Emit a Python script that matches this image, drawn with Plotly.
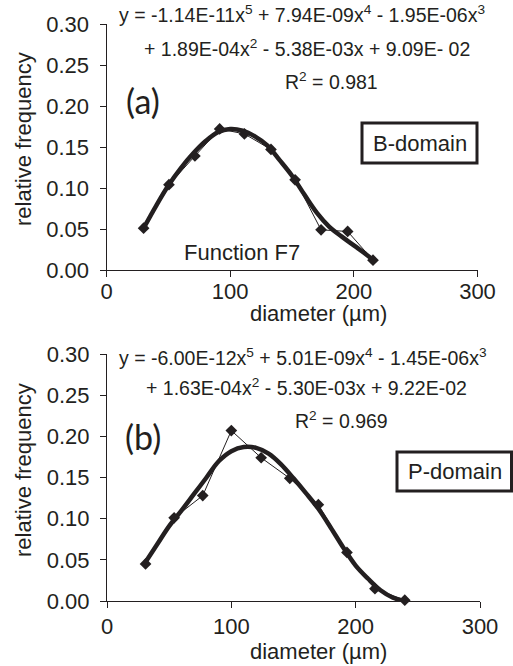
import plotly.graph_objects as go

# ---- data ----
diam_a = [30, 50.5, 71.5, 91.5, 111.5, 133, 152.5, 173.5, 195, 215.5]
freq_a = [0.051, 0.104, 0.139, 0.172, 0.166, 0.147, 0.110, 0.049, 0.047, 0.012]
fit_x_a = [30, 40, 50, 60, 70, 80, 90, 100, 110, 120, 130, 140, 150, 160, 170, 180, 190, 200, 210, 215]
fit_y_a = [0.051, 0.078, 0.103, 0.124, 0.142, 0.157, 0.168, 0.172, 0.170, 0.163, 0.152, 0.134, 0.115, 0.092, 0.070, 0.053, 0.041, 0.030, 0.019, 0.013]

diam_b = [31, 54, 77, 100, 124, 147, 170, 193, 215.5, 239.5]
freq_b = [0.045, 0.101, 0.128, 0.207, 0.174, 0.149, 0.117, 0.059, 0.015, 0.001]
fit_x_b = [30, 40, 50, 60, 70, 80, 90, 100, 110, 120, 130, 140, 150, 160, 170, 180, 190, 200, 210, 220, 230, 240]
fit_y_b = [0.045, 0.068, 0.091, 0.110, 0.130, 0.150, 0.170, 0.182, 0.187, 0.186, 0.179, 0.166, 0.149, 0.131, 0.112, 0.089, 0.065, 0.043, 0.027, 0.013, 0.004, 0.000]

x_ticks = [0, 100, 200, 300]
y_ticks = [0.00, 0.05, 0.10, 0.15, 0.20, 0.25, 0.30]

eq_a = ["y = -1.14E-11x<sup>5</sup> + 7.94E-09x<sup>4</sup> - 1.95E-06x<sup>3</sup>",
        "+ 1.89E-04x<sup>2</sup> - 5.38E-03x + 9.09E- 02",
        "R<sup>2</sup> = 0.981"]
eq_b = ["y = -6.00E-12x<sup>5</sup> + 5.01E-09x<sup>4</sup> - 1.45E-06x<sup>3</sup>",
        "+ 1.63E-04x<sup>2</sup> - 5.30E-03x + 9.22E-02",
        "R<sup>2</sup> = 0.969"]

W, H = 513, 666
INK = "#231f20"
FONT = "Liberation Sans, Arial, sans-serif"

def px(x):
    return x / W

def py(y):
    return 1 - y / H

fig = go.Figure()

for xa, ya, dx, dy, fx, fy in [("x", "y", diam_a, freq_a, fit_x_a, fit_y_a),
                               ("x2", "y2", diam_b, freq_b, fit_x_b, fit_y_b)]:
    fig.add_trace(go.Scatter(x=dx, y=dy, mode="lines+markers", xaxis=xa, yaxis=ya,
                             line=dict(color=INK, width=1),
                             marker=dict(symbol="diamond", size=9, color=INK),
                             showlegend=False, cliponaxis=False))
    fig.add_trace(go.Scatter(x=fx, y=fy, mode="lines", xaxis=xa, yaxis=ya,
                             line=dict(color=INK, width=4.5, shape="spline"),
                             showlegend=False, cliponaxis=False))

axis_common = dict(showgrid=False, zeroline=False, showline=True, linecolor=INK, linewidth=1,
                   ticks="outside", ticklen=6, tickcolor=INK, tickwidth=1, automargin=False,
                   tickfont=dict(family=FONT, size=22, color=INK))

fig.update_layout(
    width=W, height=H, margin=dict(l=0, r=0, t=0, b=0, autoexpand=False),
    paper_bgcolor="white", plot_bgcolor="white",
    xaxis=dict(domain=[px(106.5), px(477.5)], range=[0, 300], tickvals=x_ticks,
               anchor="y", ticklabelstandoff=-4, **axis_common),
    yaxis=dict(domain=[py(270), py(24)], range=[0, 0.30], tickvals=y_ticks,
               tickformat=".2f", anchor="x", ticklabelstandoff=6, **axis_common),
    xaxis2=dict(domain=[px(107), px(480)], range=[0, 300], tickvals=x_ticks,
                anchor="y2", **axis_common),
    yaxis2=dict(domain=[py(601), py(354)], range=[0, 0.30], tickvals=y_ticks,
                tickformat=".2f", anchor="x2", ticklabelstandoff=6, **axis_common),
)

ann = []

def text(x, y, s, size, xanchor="center", yanchor="middle", angle=0, family=FONT):
    ann.append(dict(x=px(x), y=py(y), xref="paper", yref="paper", text=s, showarrow=False,
                    xanchor=xanchor, yanchor=yanchor, textangle=angle,
                    font=dict(family=family, size=size, color=INK)))

EQ = 19.5
# panel (a)
text(117, 14, eq_a[0], EQ, xanchor="left")
text(142, 48, eq_a[1], EQ, xanchor="left")
text(331, 81, eq_a[2], EQ)
text(143, 101, "(a)", 34, family="Lato")
text(242, 252, "Function F7", 22)
text(318, 314, "diameter (µm)", 22)
text(23, 139, "relative frequency", 22, angle=-90)
# panel (b)
text(117, 357, eq_b[0], EQ, xanchor="left")
text(144, 387, eq_b[1], EQ, xanchor="left")
text(341, 420, eq_b[2], EQ)
text(143, 436, "(b)", 34, family="Lato")
text(318, 651, "diameter (µm)", 22)
text(23, 470, "relative frequency", 22, angle=-90)

# boxed labels
text(419.5, 143, "B-domain", 22)
text(455, 471.5, "P-domain", 22)

fig.update_layout(annotations=ann)

shapes = [
    dict(type="rect", xref="paper", yref="paper", x0=px(362), x1=px(477), y0=py(163), y1=py(123),
         line=dict(color=INK, width=3), fillcolor="rgba(0,0,0,0)", layer="above"),
    dict(type="rect", xref="paper", yref="paper", x0=px(397), x1=px(511.5), y0=py(491), y1=py(452),
         line=dict(color=INK, width=3), fillcolor="rgba(0,0,0,0)", layer="above"),
]
fig.update_layout(shapes=shapes)

fig.write_html("out.html")
